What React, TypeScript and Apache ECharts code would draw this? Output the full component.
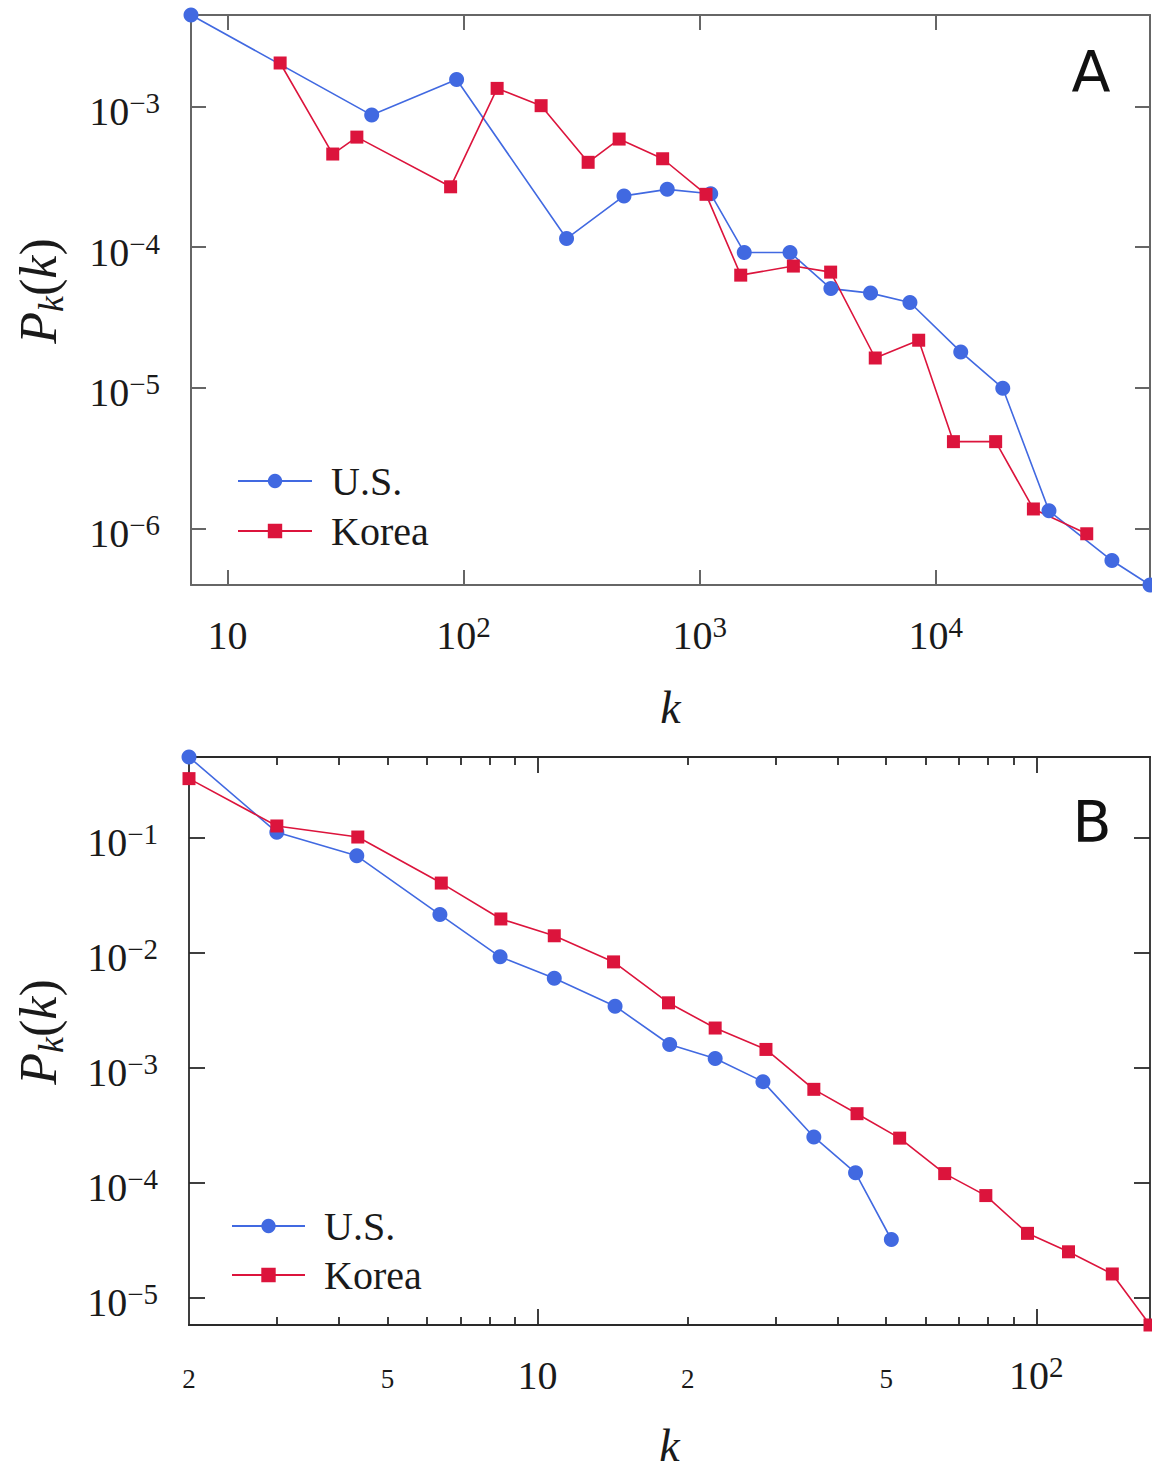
import React, { useEffect, useRef } from 'react';
import * as echarts from 'echarts';

// ---------- Panel A data ----------
const usKA = [7.0, 40.8, 93.4, 273, 478, 729, 1114, 1545, 2415, 3597, 5297, 7780, 12770, 19240, 30200, 55800, 80900];
const usPA = [4.45e-3, 8.66e-4, 1.55e-3, 1.15e-4, 2.31e-4, 2.57e-4, 2.39e-4, 9.16e-5, 9.16e-5, 5.07e-5, 4.71e-5, 4.04e-5, 1.8e-5, 9.95e-6, 1.34e-6, 5.94e-7, 3.98e-7];
const koreaKA = [16.7, 27.9, 35.3, 88.1, 138.7, 213, 337, 456, 697, 1064, 1493, 2495, 3589, 5546, 8472, 11890, 17950, 25940, 43650];
const koreaPA = [2.03e-3, 4.58e-4, 6.04e-4, 2.68e-4, 1.34e-3, 1.01e-3, 4.0e-4, 5.85e-4, 4.24e-4, 2.37e-4, 6.32e-5, 7.33e-5, 6.64e-5, 1.63e-5, 2.18e-5, 4.15e-6, 4.15e-6, 1.38e-6, 9.2e-7];

// ---------- Panel B data ----------
const usKB = [2, 3, 4.34, 6.37, 8.41, 10.8, 14.3, 18.4, 22.7, 28.3, 35.8, 43.4, 51.2];
const usPB = [0.501, 0.111, 0.0694, 0.0214, 0.00918, 0.00599, 0.00342, 0.00159, 0.0012, 7.56e-4, 2.5e-4, 1.22e-4, 3.21e-5];
const koreaKB = [2, 3, 4.36, 6.41, 8.44, 10.8, 14.2, 18.3, 22.7, 28.7, 35.8, 43.7, 53.2, 65.5, 79.2, 96.0, 116, 142, 169];
const koreaPB = [0.325, 0.126, 0.101, 0.0402, 0.0196, 0.014, 0.0083, 0.00366, 0.00221, 0.00144, 6.48e-4, 3.98e-4, 2.44e-4, 1.2e-4, 7.73e-5, 3.63e-5, 2.51e-5, 1.61e-5, 5.8e-6];

// ---------- Ticks ----------
const xTicksA = [10, 100, 1000, 10000];
const yTicksA = [1e-3, 1e-4, 1e-5, 1e-6];
const xLabelsB = [2, 5, 10, 20, 50, 100];
const xMajorB = [10, 100];
const xMinorB = [3, 4, 5, 6, 7, 8, 9, 20, 30, 40, 50, 60, 70, 80, 90];
const yTicksB = [1e-1, 1e-2, 1e-3, 1e-4, 1e-5];

const seriesNames = ['U.S.', 'Korea'];
const panelLetters = ['A', 'B'];

const BLUE = '#4169e1';
const RED = '#dc143c';
const SERIF = '"Liberation Serif", "DejaVu Serif", serif';
const SANS = '"DejaVu Sans", "Liberation Sans", sans-serif';
const TXT = '#1a1a1a';

const zip = (xs: number[], ys: number[]) => xs.map((x, i) => [x, ys[i]]);

const rich = {
  b: { fontFamily: SERIF, fontSize: 40, lineHeight: 46, color: TXT },
  sup: { fontFamily: SERIF, fontSize: 29, lineHeight: 28, verticalAlign: 'top', color: TXT },
  s: { fontFamily: SERIF, fontSize: 27, lineHeight: 54, color: TXT },
};

const powLabel = (v: number) => {
  const e = Math.round(Math.log10(v));
  if (e === 1) return '{b|10}';
  return `{b|10}{sup|${e < 0 ? '\u2212' : ''}${Math.abs(e)}}`;
};

const bLabel = (v: number) => {
  const e = Math.log10(v);
  if (Math.abs(e - Math.round(e)) < 1e-6) return powLabel(v);
  const lead = Math.round(v / Math.pow(10, Math.floor(e + 1e-9)));
  return `{s|${lead}}`;
};

const nameRich = {
  i: { fontFamily: SERIF, fontSize: 52, fontStyle: 'italic', lineHeight: 62, color: TXT },
  sub: { fontFamily: SERIF, fontSize: 36, fontStyle: 'italic', lineHeight: 36, verticalAlign: 'bottom', color: TXT },
  n: { fontFamily: SERIF, fontSize: 52, fontStyle: 'normal', lineHeight: 62, color: TXT },
};

const extentOf = (arrs: number[][]) => {
  const all = arrs.flat();
  return [Math.min(...all), Math.max(...all)];
};

export default function App() {
  const ref = useRef<HTMLDivElement>(null);
  useEffect(() => {
    if (!ref.current) return;
    const chart = echarts.init(ref.current, undefined, { renderer: 'svg' });

    const [xMinA, xMaxA] = extentOf([usKA, koreaKA]);
    const [yMinA, yMaxA] = extentOf([usPA, koreaPA]);
    const [xMinB, xMaxB] = extentOf([usKB, koreaKB]);
    const [yMinB, yMaxB] = extentOf([usPB, koreaPB]);

    const lineA = { color: '#666', width: 2 };
    const lineB = { color: '#2a2a2a', width: 1.8 };

    const axisBase = (grid: number, min: number, max: number, pos: string, ls: any) => ({
      type: 'log',
      logBase: 10,
      gridIndex: grid,
      min,
      max,
      position: pos,
      splitLine: { show: false },
      axisLine: { show: true, lineStyle: ls },
    });

    const yName = '{i|P}{sub|k}{n|(}{i|k}{n|)}';
    const yNameStyle = { fontFamily: SERIF, fontSize: 52, color: TXT, rich: nameRich, padding: [0, 0, 0, 18] };
    const xNameStyle = { fontFamily: SERIF, fontSize: 46, fontStyle: 'italic', color: TXT };

    const option: any = {
      animation: false,
      backgroundColor: '#ffffff',
      grid: [
        { left: 191, top: 15, width: 959, height: 570 },
        { left: 189, top: 757, width: 961, height: 569.5 },
      ],
      xAxis: [
        {
          ...axisBase(0, xMinA, xMaxA, 'bottom', lineA),
          axisTick: { show: true, inside: true, length: 15, customValues: xTicksA, lineStyle: lineA },
          axisLabel: { show: true, customValues: xTicksA, formatter: powLabel, margin: 27, rich },
          name: 'k',
          nameLocation: 'middle',
          nameGap: 99,
          nameTextStyle: xNameStyle,
        },
        {
          ...axisBase(0, xMinA, xMaxA, 'top', lineA),
          axisTick: { show: true, inside: true, length: 15, customValues: xTicksA, lineStyle: lineA },
          axisLabel: { show: false },
        },
        {
          ...axisBase(1, xMinB, xMaxB, 'bottom', lineB),
          axisTick: { show: true, inside: true, length: 16, customValues: xMajorB, lineStyle: lineB },
          axisLabel: { show: true, customValues: xLabelsB, formatter: bLabel, margin: 27, rich },
          name: 'k',
          nameLocation: 'middle',
          nameGap: 97,
          nameTextStyle: xNameStyle,
        },
        {
          ...axisBase(1, xMinB, xMaxB, 'bottom', lineB),
          axisTick: { show: true, inside: true, length: 8, customValues: xMinorB, lineStyle: lineB },
          axisLabel: { show: false },
        },
        {
          ...axisBase(1, xMinB, xMaxB, 'top', lineB),
          axisTick: { show: true, inside: true, length: 16, customValues: xMajorB, lineStyle: lineB },
          axisLabel: { show: false },
        },
        {
          ...axisBase(1, xMinB, xMaxB, 'top', lineB),
          axisTick: { show: true, inside: true, length: 8, customValues: xMinorB, lineStyle: lineB },
          axisLabel: { show: false },
        },
      ],
      yAxis: [
        {
          ...axisBase(0, yMinA, yMaxA, 'left', lineA),
          axisTick: { show: true, inside: true, length: 15, customValues: yTicksA, lineStyle: lineA },
          axisLabel: { show: true, customValues: yTicksA, formatter: powLabel, margin: 31, rich, padding: [10, 0, 0, 0] },
          name: yName,
          nameLocation: 'middle',
          nameRotate: 90,
          nameGap: 122,
          nameTextStyle: yNameStyle,
        },
        {
          ...axisBase(0, yMinA, yMaxA, 'right', lineA),
          axisTick: { show: true, inside: true, length: 15, customValues: yTicksA, lineStyle: lineA },
          axisLabel: { show: false },
        },
        {
          ...axisBase(1, yMinB, yMaxB, 'left', lineB),
          axisTick: { show: true, inside: true, length: 16, customValues: yTicksB, lineStyle: lineB },
          axisLabel: { show: true, customValues: yTicksB, formatter: powLabel, margin: 31, rich, padding: [10, 0, 0, 0] },
          name: yName,
          nameLocation: 'middle',
          nameRotate: 90,
          nameGap: 120,
          nameTextStyle: yNameStyle,
        },
        {
          ...axisBase(1, yMinB, yMaxB, 'right', lineB),
          axisTick: { show: true, inside: true, length: 16, customValues: yTicksB, lineStyle: lineB },
          axisLabel: { show: false },
        },
      ],
      legend: [
        {
          data: seriesNames,
          orient: 'vertical',
          left: 237,
          top: 461,
          itemWidth: 74,
          itemHeight: 18,
          itemGap: 10,
          padding: 0,
          selectedMode: false,
          textStyle: { fontFamily: SERIF, fontSize: 40, color: TXT, padding: [0, 0, 0, 14] },
        },
        {
          data: seriesNames,
          orient: 'vertical',
          left: 231,
          top: 1206,
          itemWidth: 73,
          itemHeight: 18,
          itemGap: 9,
          padding: 0,
          selectedMode: false,
          textStyle: { fontFamily: SERIF, fontSize: 40, color: TXT, padding: [0, 0, 0, 14] },
        },
      ],
      graphic: [
        {
          type: 'text',
          x: 1091,
          y: 72,
          style: { text: panelLetters[0], fontFamily: SANS, fontSize: 57, fill: '#111', align: 'center', verticalAlign: 'middle' },
        },
        {
          type: 'text',
          x: 1092,
          y: 822,
          style: { text: panelLetters[1], fontFamily: SANS, fontSize: 57, fill: '#111', align: 'center', verticalAlign: 'middle' },
        },
      ],
      series: [
        {
          type: 'line', name: seriesNames[0], xAxisIndex: 0, yAxisIndex: 0, data: zip(usKA, usPA),
          symbol: 'circle', symbolSize: 15, clip: false,
          lineStyle: { color: BLUE, width: 1.6 }, itemStyle: { color: BLUE },
        },
        {
          type: 'line', name: seriesNames[1], xAxisIndex: 0, yAxisIndex: 0, data: zip(koreaKA, koreaPA),
          symbol: 'rect', symbolSize: 13, clip: false,
          lineStyle: { color: RED, width: 1.6 }, itemStyle: { color: RED },
        },
        {
          type: 'line', name: seriesNames[0], xAxisIndex: 2, yAxisIndex: 2, data: zip(usKB, usPB),
          symbol: 'circle', symbolSize: 15, clip: false,
          lineStyle: { color: BLUE, width: 1.6 }, itemStyle: { color: BLUE },
        },
        {
          type: 'line', name: seriesNames[1], xAxisIndex: 2, yAxisIndex: 2, data: zip(koreaKB, koreaPB),
          symbol: 'rect', symbolSize: 13, clip: false,
          lineStyle: { color: RED, width: 1.6 }, itemStyle: { color: RED },
        },
      ],
    };

    chart.setOption(option);
    return () => chart.dispose();
  }, []);

  return (
    <div
      ref={ref}
      style={{ position: 'absolute', left: 0, top: 0, width: 1152, height: 1469, background: '#fff' }}
    />
  );
}
